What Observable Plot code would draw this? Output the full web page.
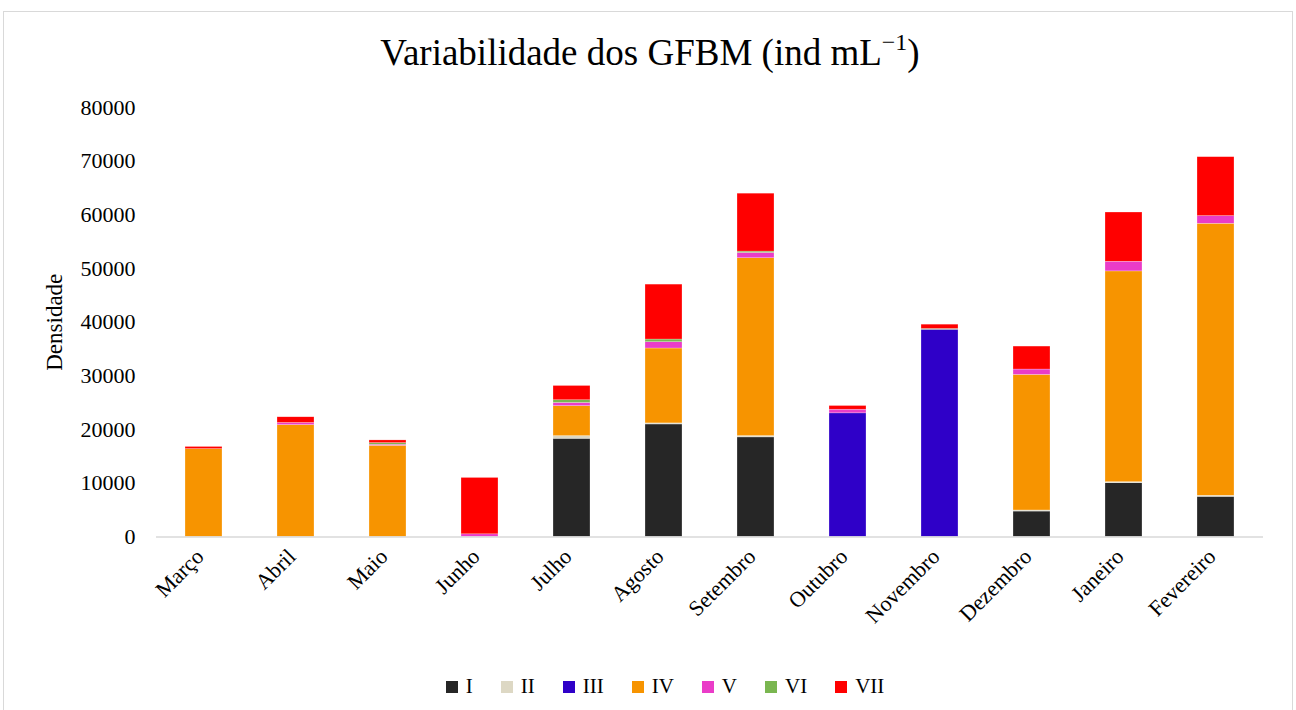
<!DOCTYPE html>
<html>
<head>
<meta charset="utf-8">
<script src="https://cdn.jsdelivr.net/npm/d3@7"></script>
<script src="https://cdn.jsdelivr.net/npm/@observablehq/plot@0.6"></script>
<style>
  body { margin: 0; background: #fff; font-family: "Liberation Serif", "Times New Roman", serif; }
  #frame { position: absolute; left: 3px; top: 11px; width: 1288px; height: 720px; border: 1px solid #d9d9d9; }
  #title { position: absolute; left: 0; width: 1300px; top: 31px; text-align: center; font-size: 37px; color: #000; }
  #title sup { font-size: 24px; vertical-align: 15px; line-height: 0; }
  #chart { position: absolute; left: 0; top: 0; }
  #legend { position: absolute; left: 0; width: 1330px; top: 674px; display: flex; justify-content: center; font-size: 21px; color: #000; }
  .item { display: flex; align-items: center; margin: 0 14px; }
  .sw { width: 12px; height: 12px; margin-right: 8px; }
</style>
</head>
<body>
<div id="frame"></div>
<div id="chart"></div>
<div id="title">Variabilidade dos GFBM (ind mL<sup>−1</sup>)</div>
<div id="legend"></div>
<script>
const months = ["Março","Abril","Maio","Junho","Julho","Agosto","Setembro","Outubro","Novembro","Dezembro","Janeiro","Fevereiro"];
const groups = ["I","II","III","IV","V","VI","VII"];
const colors = ["#262626","#ddd8c4","#2f00c8","#f79400","#ea3cc8","#7ab650","#ff0000"];
const yTicks = [0,10000,20000,30000,40000,50000,60000,70000,80000];

const valsI   = [0,0,0,0,18290,20960,18550,0,0,4740,10010,7480];
const valsII  = [0,0,0,0,500,200,250,0,0,200,200,200];
const valsIII = [0,0,0,0,0,0,0,23030,38600,0,0,0];
const valsIV  = [16370,20840,16990,0,5580,13950,33120,0,0,25250,39260,50660];
const valsV   = [0,400,200,500,600,1170,990,680,0,1000,1800,1430];
const valsVI  = [0,0,300,0,500,500,250,0,150,0,0,0];
const valsVII = [400,1060,500,10500,2660,10230,10790,690,800,4280,9170,10980];

const series = [valsI, valsII, valsIII, valsIV, valsV, valsVI, valsVII];
const data = [];
groups.forEach((g, gi) => months.forEach((m, mi) => data.push({month: m, group: g, value: series[gi][mi]})));

const W = 1296, H = 660;
const chart = Plot.plot({
  width: W, height: H,
  marginTop: 107, marginBottom: H - 536.5, marginLeft: 156, marginRight: 33,
  style: {fontFamily: '"Liberation Serif", "Times New Roman", serif', fontSize: "22px", color: "#000", background: "transparent"},
  x: {domain: months, paddingInner: 0.6, paddingOuter: 0.3, label: null},
  y: {domain: [0, 80000], ticks: yTicks, label: null},
  color: {domain: groups, range: colors},
  marks: [
    Plot.barY(data, {x: "month", y: "value", fill: "group", order: groups, stroke: "#fff", strokeWidth: 0.5, strokeOpacity: 0.5}),
    Plot.ruleY([0], {stroke: "#d9d9d9", strokeWidth: 1.5}),
    Plot.axisY({ticks: yTicks, tickSize: 0, tickPadding: 21, tickFormat: d => String(d), fontSize: 22, label: null}),
    Plot.axisX({tickSize: 0, tickPadding: 16, dx: -4, tickRotate: -45, fontSize: 22, label: null}),
    Plot.text(["Densidade"], {frameAnchor: "left", textAnchor: "middle", dx: -102, rotate: -90, fontSize: 23, fill: "#000"})
  ]
});
document.getElementById("chart").appendChild(chart);

const legend = document.getElementById("legend");
groups.forEach((g, i) => {
  const it = document.createElement("div");
  it.className = "item";
  const sw = document.createElement("div");
  sw.className = "sw";
  sw.style.background = colors[i];
  const lb = document.createElement("span");
  lb.textContent = g;
  it.appendChild(sw); it.appendChild(lb);
  legend.appendChild(it);
});
</script>
</body>
</html>
